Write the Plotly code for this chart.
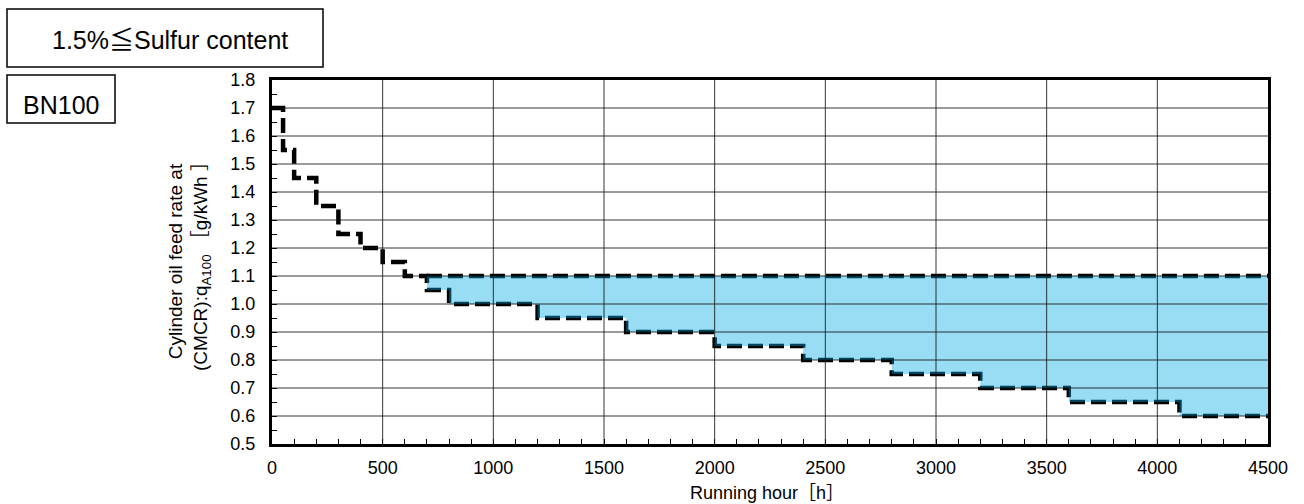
import plotly.graph_objects as go

# ---- data ----
step_start_hours = [0, 50, 100, 200, 300, 400, 500, 600, 700, 800, 1200, 1600, 2000, 2400, 2800, 3200, 3600, 4100]
feed_rate = [1.70, 1.55, 1.45, 1.35, 1.25, 1.20, 1.15, 1.10, 1.05, 1.00, 0.95, 0.90, 0.85, 0.80, 0.75, 0.70, 0.65, 0.60]
end_hour = 4500
upper_hours = [700, 4500]
upper_rate = [1.10, 1.10]
x_ticks = [0, 500, 1000, 1500, 2000, 2500, 3000, 3500, 4000, 4500]
y_ticks = [0.5, 0.6, 0.7, 0.8, 0.9, 1.0, 1.1, 1.2, 1.3, 1.4, 1.5, 1.6, 1.7, 1.8]

W, H = 1304, 504
L, R, T, B = 272, 1268, 80, 444

def px(xp):
    return (xp - L) / (R - L)

def py(yp):
    return (B - yp) / (B - T)

# step line
lx = step_start_hours + [end_hour]
ly = feed_rate + [feed_rate[-1]]

# fill polygon between upper limit and lower steps (from 700 h)
start_idx = step_start_hours.index(upper_hours[0])
fx, fy = [], []
for i in range(start_idx, len(step_start_hours)):
    s = step_start_hours[i]
    e = step_start_hours[i + 1] if i + 1 < len(step_start_hours) else end_hour
    fx += [s, e]
    fy += [feed_rate[i], feed_rate[i]]
fx += [upper_hours[1], upper_hours[0]]
fy += [upper_rate[1], upper_rate[0]]

dash = "15px,6px"
fig = go.Figure()
fig.add_trace(go.Scatter(x=lx, y=ly, mode="lines", line_shape="hv",
                         line=dict(color="black", width=4.5, dash=dash),
                         hoverinfo="skip", showlegend=False))
fig.add_trace(go.Scatter(x=upper_hours, y=upper_rate, mode="lines",
                         line=dict(color="black", width=4.5, dash=dash),
                         hoverinfo="skip", showlegend=False))
fig.add_trace(go.Scatter(x=fx, y=fy, mode="lines", fill="toself",
                         fillcolor="rgba(0,170,230,0.4)",
                         line=dict(width=0, color="rgba(0,0,0,0)"),
                         hoverinfo="skip", showlegend=False))

tickfont = dict(family="Liberation Sans, Arial, sans-serif", size=18, color="black")

fig.update_xaxes(range=[0, 4500], tickvals=x_ticks, ticktext=[str(v) for v in x_ticks],
                 showgrid=False,
                 showline=True, linecolor="black", linewidth=3, mirror=True,
                 ticks="inside", ticklen=5, tickcolor="black", tickwidth=1,
                 minor=dict(dtick=100, ticks="inside", ticklen=5, tickcolor="black", showgrid=False),
                 zeroline=False, tickfont=tickfont, ticklabelstandoff=5)
fig.update_yaxes(range=[0.5, 1.8], tickvals=y_ticks, ticktext=[f"{v:.1f}" for v in y_ticks],
                 showgrid=False,
                 showline=True, linecolor="black", linewidth=3, mirror=True,
                 ticks="inside", ticklen=5, tickcolor="black", tickwidth=1,
                 minor=dict(dtick=0.05, ticks="inside", ticklen=5, tickcolor="black", showgrid=False),
                 zeroline=False, tickfont=tickfont, ticklabelstandoff=10)

grid_color = "rgba(20,20,20,0.85)"
shapes = []
for xv in x_ticks[1:-1]:
    shapes.append(dict(type="line", xref="x", yref="paper", x0=xv, x1=xv, y0=0, y1=1,
                       line=dict(color=grid_color, width=1), layer="above"))
for yv in y_ticks[1:-1]:
    shapes.append(dict(type="line", xref="paper", yref="y", x0=0, x1=1, y0=yv, y1=yv,
                       line=dict(color=grid_color, width=1), layer="above"))

shapes += [
    dict(type="rect", xref="paper", yref="paper", x0=px(7), x1=px(323), y0=py(67), y1=py(9),
         line=dict(color="black", width=1.5), fillcolor="white", layer="above"),
    dict(type="rect", xref="paper", yref="paper", x0=px(7), x1=px(115), y0=py(123), y1=py(75),
         line=dict(color="black", width=1.5), fillcolor="white", layer="above"),
]

annfont = "Liberation Sans, Arial, Noto Sans CJK JP, sans-serif"
annotations = [
    dict(text="1.5%≦Sulfur content", xref="paper", yref="paper", x=px(170), y=py(40),
         xanchor="center", yanchor="middle", showarrow=False,
         font=dict(family=annfont, size=25, color="black")),
    dict(text="BN100", xref="paper", yref="paper", x=px(61), y=py(105),
         xanchor="center", yanchor="middle", showarrow=False,
         font=dict(family=annfont, size=25, color="black")),
    dict(text="Cylinder oil feed rate at<br>(CMCR):q<sub>A100</sub> ［g/kWh ］",
         xref="paper", yref="paper", x=px(189), y=py(262), textangle=-90,
         xanchor="center", yanchor="middle", showarrow=False,
         font=dict(family=annfont, size=19, color="black")),
    dict(text="Running hour［h］", xref="paper", yref="paper", x=px(767), y=py(493),
         xanchor="center", yanchor="middle", showarrow=False,
         font=dict(family=annfont, size=18, color="black")),
]

fig.update_layout(width=W, height=H, margin=dict(l=L, r=W - R, t=T, b=H - B),
                  plot_bgcolor="white", paper_bgcolor="white",
                  shapes=shapes, annotations=annotations, showlegend=False)

fig.write_html("out.html")
